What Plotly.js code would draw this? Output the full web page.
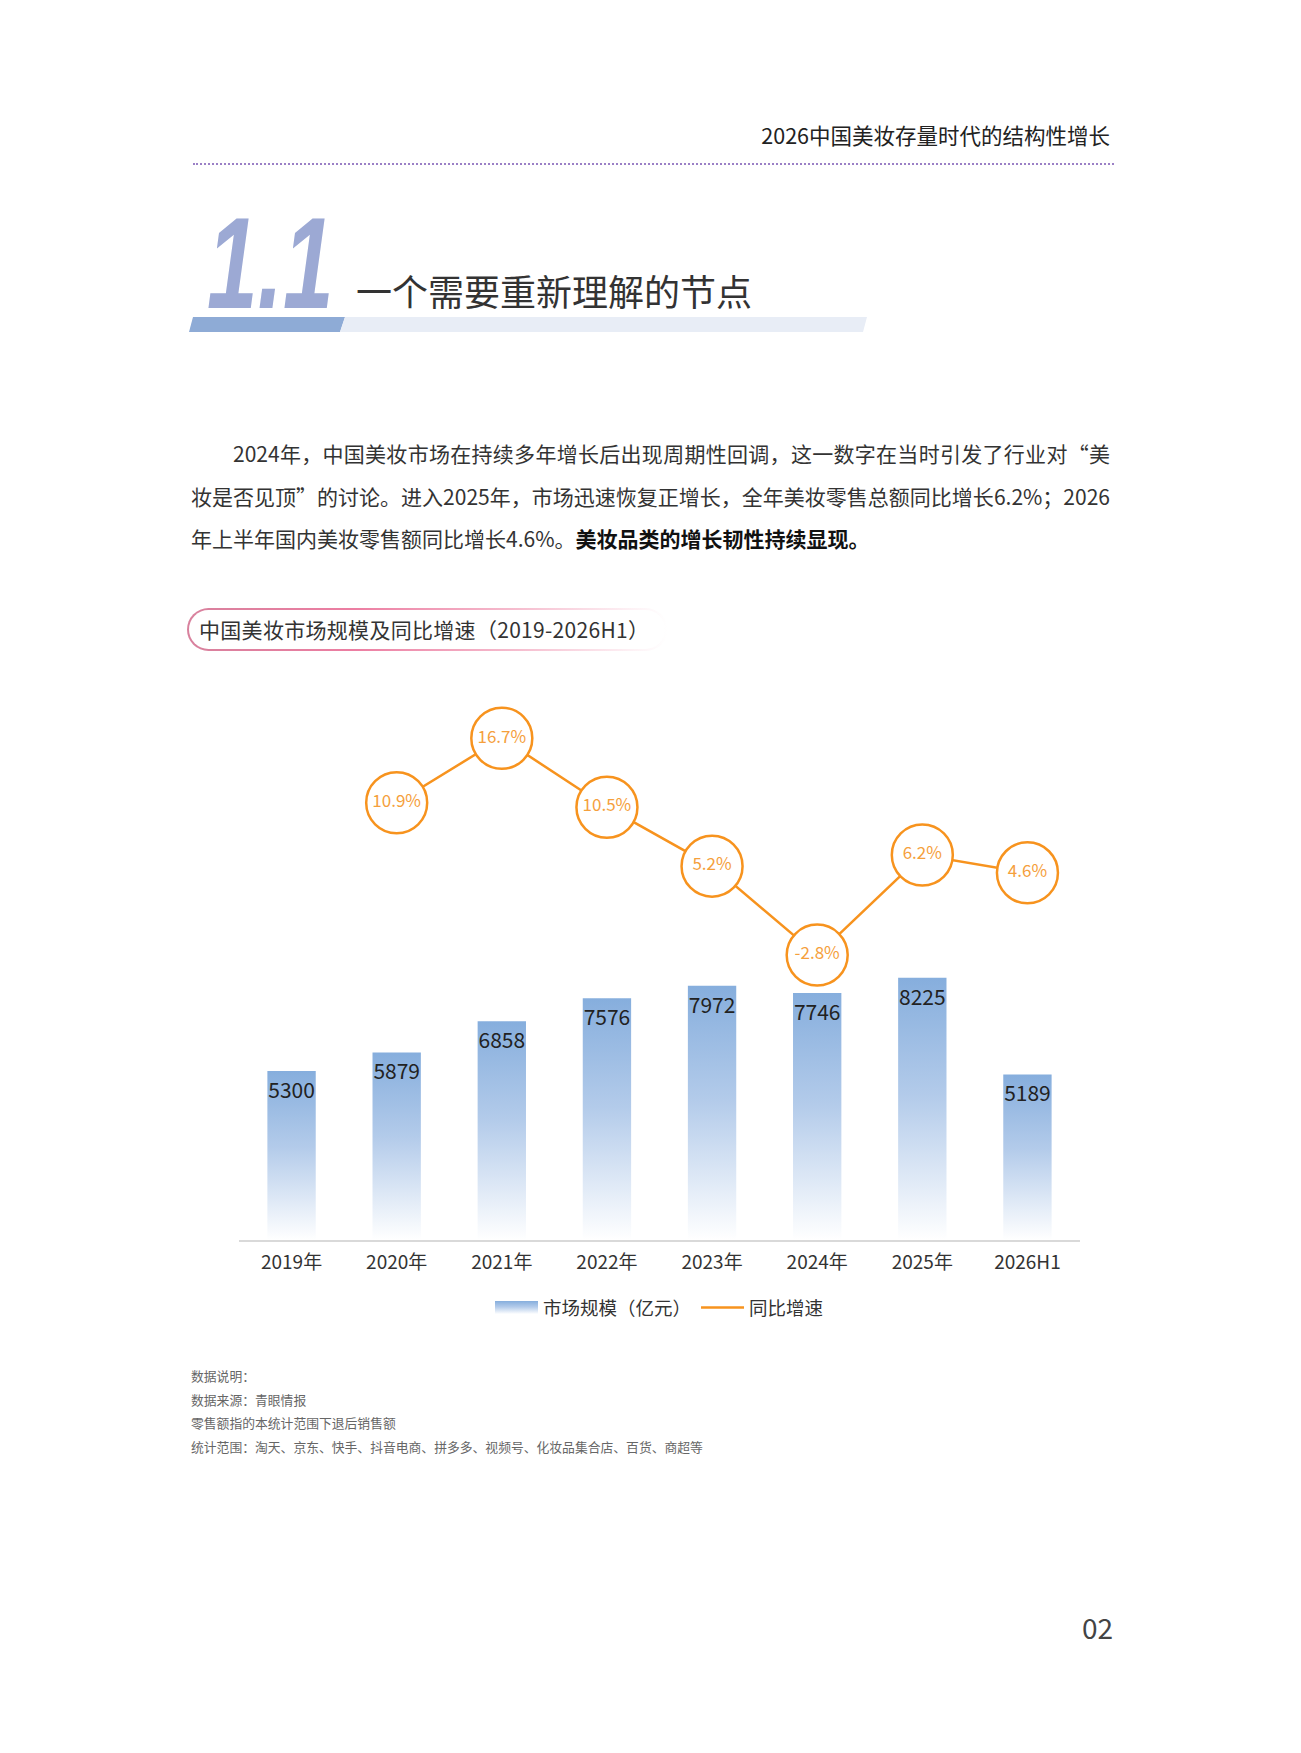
<!DOCTYPE html>
<html>
<head>
<meta charset="utf-8">
<script src="https://cdn.plot.ly/plotly-3.0.1.min.js"></script>
<style>
  html, body { margin: 0; padding: 0; background: #fff; }
  body { width: 1301px; height: 1753px; position: relative; overflow: hidden;
         font-family: "Noto Sans CJK SC", "Noto Sans", sans-serif; color: #333; }
  .abs { position: absolute; }
  #header { right: 191px; top: 120px; font-size: 21.5px; line-height: 30px; color: #222; }
  #dots { left: 193px; top: 163px; width: 921px; border-top: 2.5px dotted #9b80c6; }
  #secnum { left: 207px; top: 198px; font-family: "Liberation Sans", Arial, sans-serif;
            font-weight: bold; font-style: italic; font-size: 130px; line-height: 130px;
            color: #9ca9d4; transform: scaleX(0.7); transform-origin: left top; }
  #sectitle { left: 356px; top: 270px; font-size: 36px; line-height: 40px; font-weight: 400; color: #333; }
  #para { left: 191px; top: 432px; width: 919px; font-size: 21px; line-height: 42.5px; color: #333; }
  #para div { white-space: nowrap; text-align: justify; }
  #para .j { text-align-last: justify; }
  #para b { font-weight: 700; color: #111; }
  #pill { left: 187px; top: 608px; width: 466px; height: 39px; border-radius: 22px;
          border: 2px solid transparent;
          background: linear-gradient(#fff, #fff) padding-box,
                      linear-gradient(90deg, #d8819d 0%, #ec7ea2 35%, #f6bfd0 70%, #fdf0f4 92%, #ffffff 100%) border-box;
          font-size: 21px; letter-spacing: 0.3px; line-height: 39px; padding-left: 10px;
          box-sizing: content-box; color: #333; }
  #chart { left: 0; top: 660px; width: 1301px; height: 700px; }
  #notes { left: 191px; top: 1364px; font-size: 12.8px; line-height: 23.5px; color: #666; }
  #pageno { right: 188px; top: 1607px; font-size: 28px; line-height: 40px; color: #444; }
</style>
</head>
<body>
<div id="header" class="abs">2026中国美妆存量时代的结构性增长</div>
<div id="dots" class="abs"></div>
<svg class="abs" style="left:0;top:0" width="1301" height="400">
  <polygon points="193,317 345,317 340,332 189,332" fill="#8eabd6"/>
  <polygon points="345,317 867,317 863,332 340,332" fill="#e8edf6"/>
</svg>
<div id="secnum" class="abs">1.1</div>
<div id="sectitle" class="abs">一个需要重新理解的节点</div>
<div id="para" class="abs">
  <div class="j" style="text-indent:42px">2024年，中国美妆市场在持续多年增长后出现周期性回调，这一数字在当时引发了行业对“美</div>
  <div class="j">妆是否见顶”的讨论。进入2025年，市场迅速恢复正增长，全年美妆零售总额同比增长6.2%；2026</div>
  <div>年上半年国内美妆零售额同比增长4.6%。<b>美妆品类的增长韧性持续显现。</b></div>
</div>
<div id="pill" class="abs">中国美妆市场规模及同比增速（2019-2026H1）</div>
<div id="chart" class="abs"></div>
<div id="notes" class="abs">
  <div>数据说明：</div>
  <div>数据来源：青眼情报</div>
  <div>零售额指的本统计范围下退后销售额</div>
  <div>统计范围：淘天、京东、快手、抖音电商、拼多多、视频号、化妆品集合店、百货、商超等</div>
</div>
<div id="pageno" class="abs">02</div>

<script>
// data
const years = ['2019年', '2020年', '2021年', '2022年', '2023年', '2024年', '2025年', '2026H1'];
const marketSize = [5300, 5879, 6858, 7576, 7972, 7746, 8225, 5189];   // 亿元
const growthRate = [null, 10.9, 16.7, 10.5, 5.2, -2.8, 6.2, 4.6];        // %

const ORANGE = '#f7931e';
const FONT = '"Noto Sans CJK SC", "Noto Sans", sans-serif';

const sizeBars = {
    x: years,
    y: marketSize,
    type: 'bar',
    name: '市场规模（亿元）',
    marker: {color: '#8ab0de'},
    text: marketSize.map(v => String(v)),
    textposition: 'inside',
    insidetextanchor: 'end',
    textangle: 0,
    constraintext: 'none',
    textfont: {size: 21, color: '#222'},
    hoverinfo: 'x+y'
};
const growthLine = {
    x: years,
    y: growthRate,
    yaxis: 'y2',
    type: 'scatter',
    mode: 'lines',
    name: '同比增速',
    line: {color: ORANGE, width: 2.5},
    hoverinfo: 'skip'
};
const growthDots = {
    x: years,
    y: growthRate,
    yaxis: 'y2',
    type: 'scatter',
    mode: 'markers+text',
    showlegend: false,
    marker: {size: 61, color: '#fff', line: {color: ORANGE, width: 2.5}},
    text: growthRate.map(v => v == null ? '' : v.toFixed(1) + '%'),
    textposition: 'middle center',
    textfont: {size: 17, color: '#f5a03c'},
    cliponaxis: false
};

const layout = {
    width: 1301,
    height: 700,
    margin: {l: 239, r: 221, t: 40, b: 120},
    paper_bgcolor: 'rgba(0,0,0,0)',
    plot_bgcolor: 'rgba(0,0,0,0)',
    font: {family: FONT, color: '#333'},
    bargap: 0.54,
    showlegend: true,
    legend: {
        orientation: 'h',
        x: 0.5, xanchor: 'center',
        y: -0.126, yanchor: 'middle',
        itemwidth: 43,
        font: {size: 18.5, color: '#333'}
    },
    xaxis: {
        type: 'category',
        range: [-0.5, years.length - 0.5],
        showline: true, linecolor: '#d9d9d9', linewidth: 2,
        ticks: '', showgrid: false, zeroline: false,
        ticklabelstandoff: 4,
        tickfont: {size: 19, color: '#333'}
    },
    yaxis: {range: [0, 16930], visible: false, showgrid: false, zeroline: false},
    yaxis2: {range: [-28.42, 20.14], overlaying: 'y', visible: false, showgrid: false, zeroline: false}
};

const gd = document.getElementById('chart');

function paintGradient() {
    const svg = gd.querySelector('svg.main-svg');
    if (!svg) return;
    if (!document.getElementById('barGrad')) {
        const ns = 'http://www.w3.org/2000/svg';
        let defs = svg.querySelector('defs');
        if (!defs) { defs = document.createElementNS(ns, 'defs'); svg.insertBefore(defs, svg.firstChild); }
        const g = document.createElementNS(ns, 'linearGradient');
        g.setAttribute('id', 'barGrad');
        g.setAttribute('x1', '0'); g.setAttribute('y1', '0');
        g.setAttribute('x2', '0'); g.setAttribute('y2', '1');
        [['0', '#86aedd', 1], ['0.45', '#b3cbea', 1], ['1', '#ffffff', 1]].forEach(s => {
            const st = document.createElementNS(ns, 'stop');
            st.setAttribute('offset', s[0]);
            st.setAttribute('stop-color', s[1]);
            st.setAttribute('stop-opacity', s[2]);
            g.appendChild(st);
        });
        defs.appendChild(g);
    }
    gd.querySelectorAll('.barlayer .trace .point path').forEach(p => { p.style.fill = 'url(#barGrad)'; });
    const icon = gd.querySelector('.legend .traces .legendpoints path');
    if (icon) {
        icon.setAttribute('d', 'M-21.5,-6.5H21.5V6.5H-21.5Z');
        icon.style.fill = 'url(#barGrad)';
        icon.style.stroke = 'none';
    }
}

Plotly.newPlot(gd, [sizeBars, growthLine, growthDots], layout, {staticPlot: true}).then(() => {
    paintGradient();
    gd.on('plotly_afterplot', paintGradient);
});
</script>
</body>
</html>
